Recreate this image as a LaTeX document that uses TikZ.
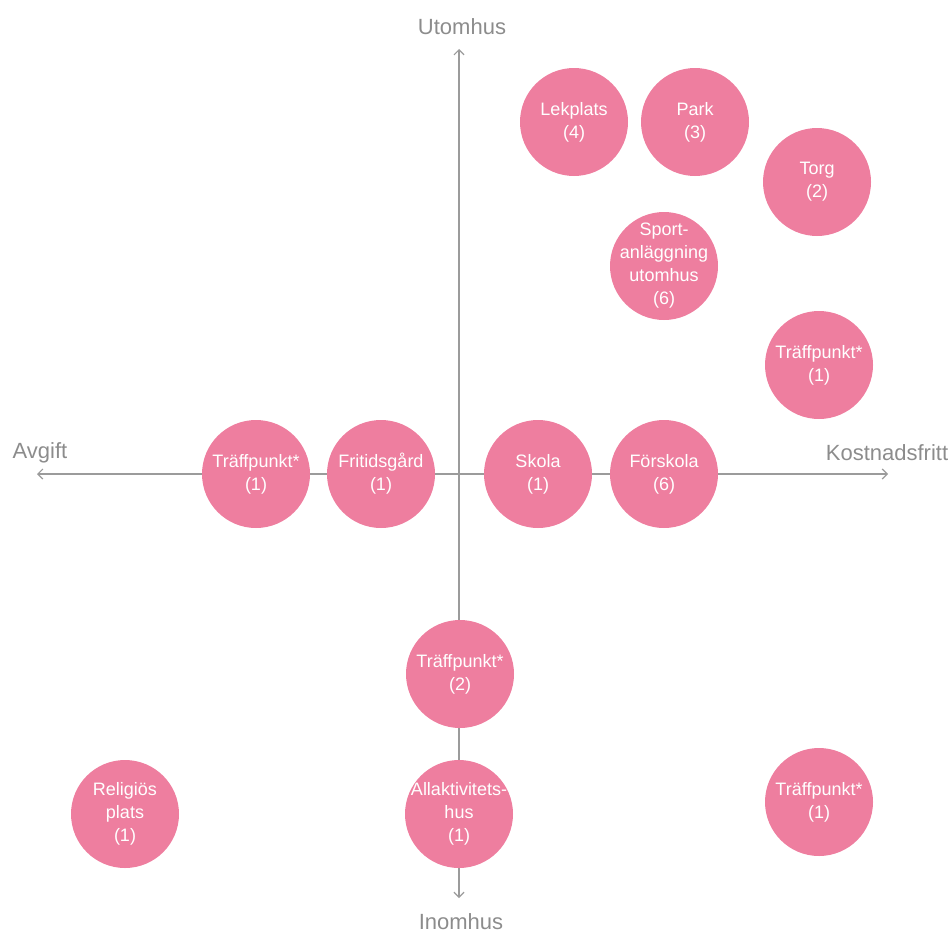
\documentclass[tikz,border=0pt]{standalone}
\usepackage{fontspec}
\setmainfont{Liberation Sans}
\usetikzlibrary{arrows.meta}
\definecolor{rosa}{RGB}{238,126,159}
\definecolor{axelgra}{RGB}{155,155,155}
\definecolor{textgra}{RGB}{140,140,140}

\begin{document}
\begin{tikzpicture}[x=1pt, y=-1pt,
             plats/.style = {circle, fill=rosa, text=white, minimum size=108pt, inner sep=0pt,
                             align=center, font=\fontsize{18}{23}\selectfont},
             trang/.style = {inner sep=-14pt},
             axel/.style = {draw=axelgra, line width=1.2pt,
                            {Straight Barb[length=5pt,width=10pt]}-{Straight Barb[length=5pt,width=10pt]}},
             rubrik/.style = {text=textgra, font=\fontsize{22}{26}\selectfont}]
\useasboundingbox (0,0) rectangle (952,934);

\coordinate (avgiftpil) at (37,474);
\coordinate (gratispil) at (888,474);
\coordinate (utepil) at (459,49);
\coordinate (innepil) at (459,898);
\draw [axel] (avgiftpil) -- (gratispil);
\draw [axel] (utepil) -- (innepil);

\node (avgift) at (40,453) [rubrik] {Avgift};
\node (gratis) at (887,453) [rubrik] {Kostnadsfritt};
\node (ute) at (462,27) [rubrik] {Utomhus};
\node (inne) at (461,922) [rubrik] {Inomhus};

\node (lekplats) at (574,122) [plats] {Lekplats\\(4)};
\node (park) at (695,122) [plats] {Park\\(3)};
\node (torg) at (817,182) [plats] {Torg\\(2)};
\node (sport) at (664,266) [plats, trang] {Sport-\\anläggning\\utomhus\\(6)};
\node (traffuppe) at (819,365) [plats] {Träffpunkt*\\(1)};

\node (traffvanster) at (256,474) [plats] {Träffpunkt*\\(1)};
\node (fritid) at (381,474) [plats] {Fritidsgård\\(1)};
\node (skola) at (538,474) [plats] {Skola\\(1)};
\node (forskola) at (664,474) [plats] {Förskola\\(6)};

\node (traffnere) at (460,674) [plats] {Träffpunkt*\\(2)};
\node (allakt) at (459,814) [plats, trang] {Allaktivitets-\\hus\\(1)};
\node (religios) at (125,814) [plats] {Religiös\\plats\\(1)};
\node (traffhoger) at (819,802) [plats] {Träffpunkt*\\(1)};

\end{tikzpicture}
\end{document}
